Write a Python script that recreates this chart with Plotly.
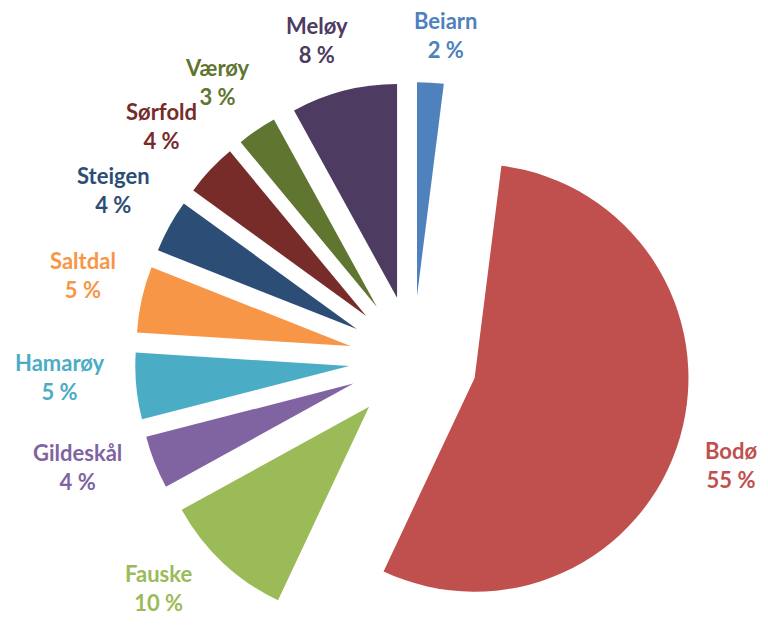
import math
import plotly.graph_objects as go

labels = ["Beiarn", "Bodø", "Fauske", "Gildeskål", "Hamarøy", "Saltdal", "Steigen", "Sørfold", "Værøy", "Meløy"]
values = [2, 55, 10, 4, 5, 5, 4, 4, 3, 8]
colors = ["#4F81BD", "#C0504D", "#9BBB59", "#8064A2", "#4BACC6", "#F79646", "#2C4D75", "#772C2A", "#5F7530", "#4D3B62"]

fig = go.Figure(go.Pie(
    labels=labels,
    values=values,
    sort=False,
    direction="clockwise",
    rotation=0,
    pull=0.3,
    marker=dict(colors=colors, line=dict(width=0)),
    textinfo="none",
    hoverinfo="label+value",
    showlegend=False,
    domain=dict(x=[0, 1], y=[0, 1]),
))

# data labels: anchored just outside each pulled slice, near its bisector
total = sum(values)
label_r, half_block, angle_offset = 306, 21, math.radians(2.5)
cum = 0.0
annotations = []
for lab, val, col in zip(labels, values, colors):
    mid = (cum + val / 2) / total * 2 * math.pi + angle_offset
    cum += val
    s, c = math.sin(mid), math.cos(mid)
    if s > 0.2:
        xa = "left"
    elif s < -0.2:
        xa = "right"
    else:
        xa = "center"
    annotations.append(dict(
        x=0.5, y=0.5, xref="paper", yref="paper",
        xshift=label_r * s, yshift=(label_r + half_block) * c,
        text=f"<b>{lab}</b><br><b>{val} %</b>", showarrow=False,
        xanchor=xa, yanchor="middle", align="center",
        font=dict(family="Lato", size=22, color=col),
    ))

fig.update_layout(
    width=768, height=630,
    margin=dict(l=42, r=0, t=74, b=0),
    paper_bgcolor="white",
    plot_bgcolor="white",
    annotations=annotations,
)

fig.write_html("out.html")
